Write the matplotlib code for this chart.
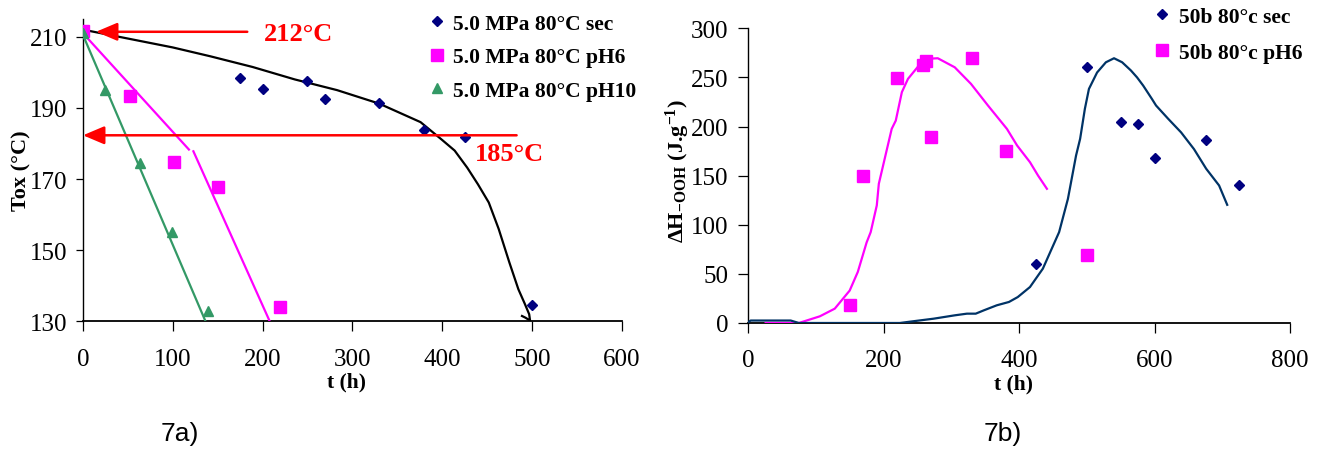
import matplotlib
matplotlib.use("Agg")
import matplotlib.pyplot as plt
import numpy as np

plt.rcParams['font.family'] = ['Liberation Serif', 'DejaVu Serif']
plt.rcParams['mathtext.fontset'] = 'custom'
plt.rcParams['mathtext.rm'] = 'Liberation Serif'
plt.rcParams['mathtext.bf'] = 'Liberation Serif:bold'
plt.rcParams['mathtext.it'] = 'Liberation Serif:italic'

# ---- 7a) data : oxidation temperature vs time ----
t_sec = [0, 175, 200, 250, 270, 330, 380, 425, 500]
T_sec = [211, 198.5, 195.3, 197.6, 192.5, 191.5, 183.8, 181.7, 134.7]
t_ph6 = [0, 52, 101, 150, 219]
T_ph6 = [211.5, 193.3, 174.8, 167.8, 134]
t_ph10 = [0, 25, 64, 99, 139]
T_ph10 = [211, 195, 174.6, 155, 132.8]

# fitted curves
t_sec_fit = [0, 50, 100, 142, 189, 236, 283, 330, 376, 400, 414, 428, 440,
             452, 463, 475, 485, 492, 497, 498, 493, 489]
T_sec_fit = [212, 209.5, 207, 204.5, 201.5, 198, 195, 191.2, 186, 181, 178,
             173.2, 168.5, 163.4, 156, 146.5, 139, 135, 132, 130.2, 131, 131.5]
t_ph6_fit = [0, 118, np.nan, 123, 207.5]
T_ph6_fit = [211, 178.3, np.nan, 177.8, 130.3]
t_ph10_fit = [0, 136]
T_ph10_fit = [210.5, 130.3]

# ---- 7b) data : dH-OOH vs time ----
tb_sec = [425, 500, 550, 575, 600, 675, 725]
H_sec = [60, 261, 205, 203, 168, 186, 140]
tb_ph6 = [150, 170, 220, 258, 262, 270, 330, 380, 500]
H_ph6 = [18, 150, 249, 263, 267, 189, 270, 175, 69]

tb_sec_fit = [-2, 4, 63, 75, 224, 243, 274, 305, 323, 336, 348, 367, 385,
              398, 416, 435, 459, 472, 484, 490, 497, 503, 515, 528, 540,
              552, 565, 574, 583, 596, 602, 620, 639, 658, 676, 695, 707]
H_sec_fit = [0, 2.5, 2.5, 0, 0, 1.7, 4.4, 7.8, 9.5, 9.5, 12.9, 18, 21.4,
             26.4, 36.6, 55.3, 92.5, 126.4, 170.5, 187.5, 218, 238.3, 255,
             265.4, 269.5, 265.4, 257, 250, 241.7, 228, 221.4, 207.8, 194,
             177, 157, 140, 120.3]
tb_ph6_fit = [26, 75, 106, 128, 150, 162, 175, 181, 190, 193, 212, 218, 227,
              236, 252, 261, 280, 305, 329, 354, 382, 397, 416, 428, 441]
H_ph6_fit = [0, 0, 6.8, 14.6, 33, 52, 82, 92.5, 119.7, 141.7, 197.6, 206,
             235, 248.5, 262, 268.8, 269.5, 260.3, 243.4, 221.4, 197.6, 180.7,
             163.7, 150, 136.6]

navy = '#000080'
mag = '#FF00FF'
green = '#339966'
teal = '#003366'
red = '#FF0000'

fig = plt.figure(figsize=(13.19, 4.52), dpi=100)

def style(ax):
    ax.spines['top'].set_visible(False)
    ax.spines['right'].set_visible(False)
    ax.spines['left'].set_linewidth(1.0)
    ax.spines['bottom'].set_linewidth(1.3)
    ax.tick_params(axis='both', direction='out', labelsize=18, width=0.9)

# ---------------- 7a ----------------
ax1 = fig.add_axes([0.0629, 0.2869, 0.4084, 0.6689])
style(ax1)
ax1.plot(t_sec_fit, T_sec_fit, color='black', lw=1.6, zorder=3)
ax1.plot(t_ph6_fit, T_ph6_fit, color=mag, lw=1.6, zorder=3)
ax1.plot(t_ph10_fit, T_ph10_fit, color=green, lw=1.6, zorder=3)
h1, = ax1.plot(t_sec, T_sec, 'D', color=navy, ms=5, ls='none', zorder=4,
               label='5.0 MPa 80°C sec')
h2, = ax1.plot(t_ph6, T_ph6, 's', color=mag, ms=8, ls='none', zorder=4,
               label='5.0 MPa 80°C pH6')
h3, = ax1.plot(t_ph10, T_ph10, '^', color=green, ms=7, ls='none', zorder=4,
               label='5.0 MPa 80°C pH10')
ax1.set_xlim(0, 600)
ax1.set_ylim(130, 215)
ax1.set_xticks(np.arange(0, 601, 100))
ax1.set_yticks(np.arange(130, 211, 20))
ax1.tick_params(axis='x', length=7, pad=12)
ax1.tick_params(axis='y', length=5, pad=6)
ax1.set_xlabel('t (h)', fontsize=15.5, fontweight='bold')
ax1.set_ylabel('Tox (°C)', fontsize=16, fontweight='bold')
ax1.xaxis.set_label_coords(0.49, -0.166)
ax1.yaxis.set_label_coords(-0.095, 0.5)

# red arrows
ax1.annotate('', xy=(14.5, 211.4), xytext=(183, 211.4),
             arrowprops=dict(arrowstyle='-|>,head_length=1.3,head_width=0.55',
                             color=red, lw=1.8, shrinkA=0, shrinkB=0),
             annotation_clip=False, zorder=5)
ax1.text(202, 211.0, '212°C', color=red, fontsize=19, fontweight='bold',
         va='center', ha='left')
ax1.annotate('', xy=(0, 182.3), xytext=(483, 182.3),
             arrowprops=dict(arrowstyle='-|>,head_length=1.3,head_width=0.55',
                             color=red, lw=1.8, shrinkA=0, shrinkB=0),
             annotation_clip=False, zorder=5)
ax1.text(437, 177.2, '185°C', color=red, fontsize=19, fontweight='bold',
         va='center', ha='left')

fig.legend(handles=[h1, h2, h3], loc='upper left',
           bbox_to_anchor=(0.315, 0.996), frameon=False,
           prop={'size': 15.5, 'weight': 'bold'}, handlelength=0.8,
           handletextpad=0.35, labelspacing=0.62, borderaxespad=0.2)

# ---------------- 7b ----------------
ax2 = fig.add_axes([0.5671, 0.2832, 0.4111, 0.6520])
style(ax2)
ax2.plot(tb_ph6_fit, H_ph6_fit, color=mag, lw=1.6, zorder=3)
ax2.plot(tb_sec_fit, H_sec_fit, color=teal, lw=1.6, zorder=3)
g1, = ax2.plot(tb_sec, H_sec, 'D', color=navy, ms=5, ls='none', zorder=4,
               label='50b 80°c sec')
g2, = ax2.plot(tb_ph6, H_ph6, 's', color=mag, ms=8, ls='none', zorder=4,
               label='50b 80°c pH6')
ax2.set_xlim(0, 800)
ax2.set_ylim(0, 300)
ax2.set_xticks(np.arange(0, 801, 200))
ax2.set_yticks(np.arange(0, 301, 50))
ax2.tick_params(axis='x', length=7, pad=12)
ax2.tick_params(axis='y', length=7, pad=7)
ax2.set_xlabel('t (h)', fontsize=15.5, fontweight='bold')
ax2.set_ylabel(r'$\mathbf{\Delta H_{-OOH}}$ (J.g$^{\mathbf{-1}}$)',
               fontsize=16, fontweight='bold')
ax2.xaxis.set_label_coords(0.49, -0.173)
ax2.yaxis.set_label_coords(-0.103, 0.52)

fig.legend(handles=[g1, g2], loc='upper left',
           bbox_to_anchor=(0.865, 1.012), frameon=False,
           prop={'size': 15.5, 'weight': 'bold'}, handlelength=0.8,
           handletextpad=0.35, labelspacing=0.75, borderaxespad=0.2)

fig.text(0.1365, 0.04, '7a)', fontsize=19, family='Liberation Sans',
         ha='center', va='center')
fig.text(0.7605, 0.04, '7b)', fontsize=19, family='Liberation Sans',
         ha='center', va='center')

fig.savefig('out.png', dpi=100)
